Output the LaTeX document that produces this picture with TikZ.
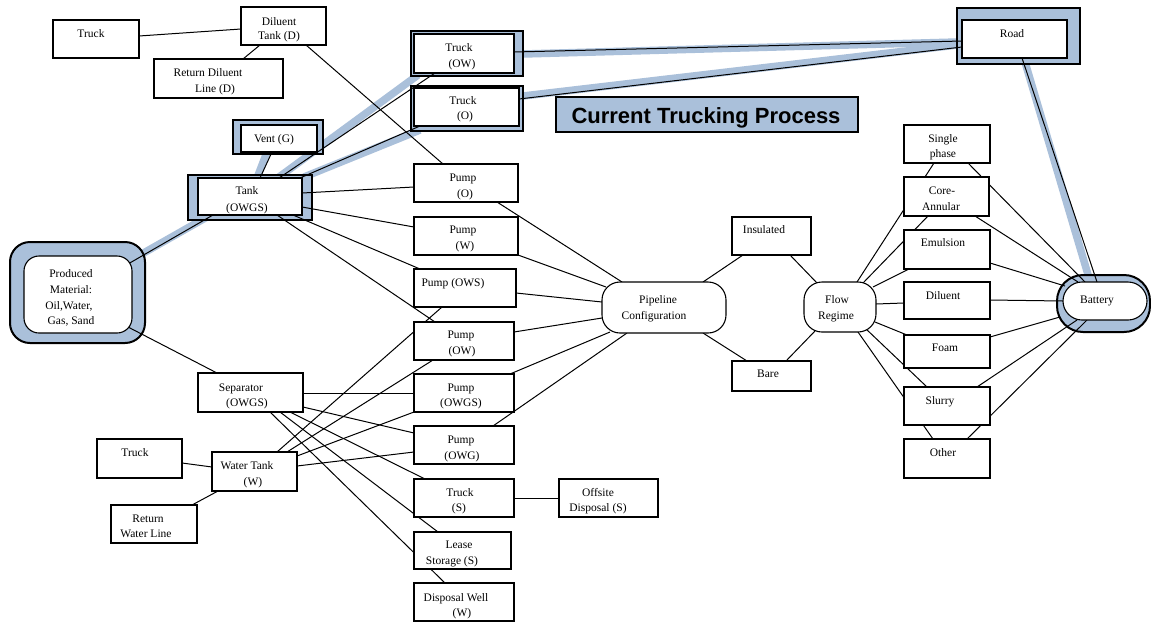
\documentclass[tikz,border=0pt]{standalone}
\usepackage{fontspec}
\setmainfont{Liberation Serif}
\newfontfamily\arialf{Liberation Sans}
\definecolor{hb}{RGB}{170,192,218}
\pgfdeclarelayer{bg}
\pgfdeclarelayer{bands}
\pgfdeclarelayer{outer}
\pgfdeclarelayer{lines}
\pgfsetlayers{bg,bands,outer,lines,main}
\tikzset{
  box/.style={rectangle,draw=black,fill=white,line width=1.1pt,inner sep=0pt,outer sep=0pt},
  hbox/.style={box,fill=hb,line width=2pt},
  txt/.style={font=\fontsize{11.5}{14}\selectfont,inner sep=0pt,outer sep=0pt,anchor=base},
  conn/.style={draw=black,line width=1pt},
  band/.style={draw=hb,line width=7.5pt,line cap=butt},
}
\newcommand\bx[6][]{%
  \expandafter\xdef\csname bxX#2\endcsname{#3}%
  \expandafter\xdef\csname bxY#2\endcsname{#4}%
  \node[box,#1,minimum width={(#5-#3)*1pt},minimum height={(#6-#4)*1pt}] (#2) at ({(#3+#5)/2},{(#4+#6)/2}) {};}
\newcommand\ep[3]{([shift={({#2-\csname bxX#1\endcsname},{#3-\csname bxY#1\endcsname})}]#1.north west)}
\newcommand\tx[4]{\node[txt] (#1) at (#2,#3) {#4};}
\begin{document}
\begin{tikzpicture}[x=1pt,y=-1pt]
\begin{pgfonlayer}{bg}
\path[fill=white,use as bounding box] (0,0) rectangle (1151,622);
\end{pgfonlayer}
% highlighted outer frames
\begin{pgfonlayer}{outer}
\bx[hbox]{ventO}{233}{120}{323}{154}
\bx[hbox]{tankO}{188}{175}{312}{220}
\bx[hbox]{trkowO}{411}{31}{523}{76}
\bx[hbox]{trkoO}{411}{86}{523}{131}
\bx[hbox]{roadO}{957}{8}{1080}{64}
\bx[hbox,rounded corners=20pt]{prodO}{10}{242}{145}{343}
\bx[hbox,rounded corners=26pt]{battO}{1057}{275}{1150}{332}
\end{pgfonlayer}
% boxes
\bx{trk1}{53}{20}{139}{58}
\bx{dtank}{241}{7}{326}{45}
\bx{rdl}{154}{59}{283}{98}
\bx{vent}{241}{125}{317}{152}
\bx{tank}{198}{178}{302}{215}
\bx{trkow}{414}{34}{514}{73}
\bx{trko}{414}{88}{519}{126}
\bx{pO}{414}{164}{518}{202}
\bx{pW}{414}{217}{518}{255}
\bx{pOWS}{414}{269}{516}{307}
\bx{pOW}{414}{322}{514}{360}
\bx{pOWGS}{414}{374}{514}{412}
\bx{pOWG}{414}{426}{514}{464}
\bx{trkS}{414}{479}{514}{517}
\bx{offs}{559}{479}{658}{517}
\bx{lease}{414}{532}{511}{569}
\bx{dwell}{414}{583}{514}{621}
\bx{sep}{198}{373}{303}{412}
\bx{trk2}{97}{439}{182}{478}
\bx{wtank}{212}{452}{297}{491}
\bx{rwl}{111}{505}{197}{543}
\bx[rounded corners=15pt]{prod}{24}{256}{132}{333}
\bx[rounded corners=18pt]{pipe}{602}{282}{726}{333}
\bx{ins}{732}{217}{811}{255}
\bx{bare}{732}{361}{811}{391}
\bx[rounded corners=18pt]{flow}{804}{282}{876}{332}
\bx{sp}{904}{125}{990}{163}
\bx{core}{904}{177}{989}{216}
\bx{emul}{904}{230}{990}{269}
\bx{dil}{904}{282}{990}{319}
\bx{foam}{904}{335}{990}{368}
\bx{slurry}{904}{387}{990}{425}
\bx{other}{904}{439}{990}{478}
\bx{road}{962}{20}{1067}{58}
\bx[rounded corners=19pt]{batt}{1063}{282}{1147}{320}
\bx[fill=hb,line width=1.6pt]{title}{556}{97}{858}{132}
% texts
\tx{t-trk1}{91}{37}{Truck}
\tx{t-dt1}{279}{25}{Diluent}
\tx{t-dt2}{279}{39}{Tank (D)}
\tx{t-rdl1}{208}{76}{Return Diluent}
\tx{t-rdl2}{215}{92}{Line (D)}
\tx{t-vent}{274}{142}{Vent (G)}
\tx{t-tank1}{247}{194}{Tank}
\tx{t-tank2}{247}{211}{(OWGS)}
\tx{t-tow1}{459}{51}{Truck}
\tx{t-tow2}{462}{67}{(OW)}
\tx{t-to1}{463}{104}{Truck}
\tx{t-to2}{465}{119}{(O)}
\tx{t-po1}{463}{181}{Pump}
\tx{t-po2}{465}{197}{(O)}
\tx{t-pw1}{463}{233}{Pump}
\tx{t-pw2}{465}{249}{(W)}
\tx{t-pows}{453}{286}{Pump (OWS)}
\tx{t-pow1}{461}{338}{Pump}
\tx{t-pow2}{462}{354}{(OW)}
\tx{t-powgs1}{461}{391}{Pump}
\tx{t-powgs2}{461}{406}{(OWGS)}
\tx{t-powg1}{461}{443}{Pump}
\tx{t-powg2}{462}{459}{(OWG)}
\tx{t-ts1}{460}{496}{Truck}
\tx{t-ts2}{459}{511}{(S)}
\tx{t-off1}{598}{496}{Offsite}
\tx{t-off2}{598}{511}{Disposal (S)}
\tx{t-ls1}{459}{548}{Lease}
\tx{t-ls2}{452}{564}{Storage (S)}
\tx{t-dw1}{456}{601}{Disposal Well}
\tx{t-dw2}{462}{616}{(W)}
\tx{t-sep1}{241}{391}{Separator}
\tx{t-sep2}{247}{406}{(OWGS)}
\tx{t-trk2}{135}{456}{Truck}
\tx{t-wt1}{247}{469}{Water Tank}
\tx{t-wt2}{253}{485}{(W)}
\tx{t-rwl1}{148}{522}{Return}
\tx{t-rwl2}{146}{537}{Water Line}
\tx{t-pm1}{71}{277}{Produced}
\tx{t-pm2}{71}{293}{Material:}
\tx{t-pm3}{69}{309}{Oil,Water,}
\tx{t-pm4}{71}{324}{Gas, Sand}
\tx{t-pc1}{658}{303}{Pipeline}
\tx{t-pc2}{654}{319}{Configuration}
\tx{t-ins}{764}{233}{Insulated}
\tx{t-bare}{768}{377}{Bare}
\tx{t-fr1}{837}{303}{Flow}
\tx{t-fr2}{836}{319}{Regime}
\tx{t-sp1}{943}{142}{Single}
\tx{t-sp2}{943}{157}{phase}
\tx{t-ca1}{942}{194}{Core-}
\tx{t-ca2}{941}{210}{Annular}
\tx{t-em}{943}{246}{Emulsion}
\tx{t-dil}{943}{299}{Diluent}
\tx{t-foam}{945}{351}{Foam}
\tx{t-sl}{940}{404}{Slurry}
\tx{t-oth}{943}{456}{Other}
\tx{t-road}{1012}{37}{Road}
\tx{t-batt}{1097}{303}{Battery}
\node[anchor=base,inner sep=0pt,font=\arialf\bfseries\fontsize{22}{26}\selectfont] (t-title) at (706,123) {Current Trucking Process};
% blue highlight bands
\begin{pgfonlayer}{bands}
\draw[band] \ep{ventO}{267}{152} -- \ep{tankO}{257}{178};
\draw[band] \ep{tankO}{279}{177} -- \ep{trkowO}{418}{75};
\draw[band] \ep{tankO}{304}{177} -- \ep{trkoO}{420}{130};
\draw[band] \ep{trkowO}{523}{54} -- \ep{roadO}{957}{42};
\draw[band] \ep{trkoO}{523}{96} -- \ep{roadO}{957}{45};
\draw[band] \ep{roadO}{1025}{62} -- \ep{battO}{1089}{278};
\draw[band] \ep{tankO}{207}{217} -- \ep{prodO}{140}{255};
\end{pgfonlayer}
% connectors
\begin{pgfonlayer}{lines}
\draw[conn] \ep{trk1}{139}{36} -- \ep{dtank}{241}{29};
\draw[conn] \ep{dtank}{260}{45} -- \ep{rdl}{243}{59};
\draw[conn] \ep{dtank}{306}{45} -- \ep{pO}{443}{164};
\draw[conn] \ep{vent}{272}{152} -- \ep{tank}{260}{178};
\draw[conn] \ep{tank}{279}{178} -- \ep{trkow}{435}{73};
\draw[conn] \ep{tank}{300}{178} -- \ep{trko}{420}{126};
\draw[conn] \ep{trkow}{514}{52} -- \ep{road}{962}{41};
\draw[conn] \ep{trko}{519}{99} -- \ep{road}{962}{47};
\draw[conn] \ep{road}{1022}{58} -- \ep{batt}{1097}{282};
\draw[conn] \ep{tank}{213}{215} -- \ep{prod}{128}{264};
\draw[conn] \ep{prod}{128}{327} -- \ep{sep}{217}{373};
\draw[conn] \ep{tank}{302}{193} -- \ep{pO}{414}{187};
\draw[conn] \ep{tank}{302}{207} -- \ep{pW}{414}{227};
\draw[conn] \ep{tank}{293}{215} -- \ep{pOWS}{420}{269};
\draw[conn] \ep{tank}{277}{215} -- \ep{pOW}{435}{322};
\draw[conn] \ep{wtank}{277}{452} -- \ep{pOWS}{442}{307};
\draw[conn] \ep{wtank}{287}{452} -- \ep{pOW}{433}{360};
\draw[conn] \ep{wtank}{297}{456} -- \ep{pOWGS}{414}{412};
\draw[conn] \ep{wtank}{297}{466} -- \ep{pOWG}{414}{452};
\draw[conn] \ep{sep}{303}{393} -- \ep{pOWGS}{414}{393};
\draw[conn] \ep{sep}{303}{407} -- \ep{pOWG}{414}{433};
\draw[conn] \ep{sep}{290}{412} -- \ep{trkS}{425}{479};
\draw[conn] \ep{sep}{280}{412} -- \ep{lease}{438}{532};
\draw[conn] \ep{sep}{270}{412} -- \ep{dwell}{445}{583};
\draw[conn] \ep{trk2}{182}{463} -- \ep{wtank}{212}{467};
\draw[conn] \ep{wtank}{218}{491} -- \ep{rwl}{192}{505};
\draw[conn] \ep{trkS}{514}{498} -- \ep{offs}{559}{498};
\draw[conn] \ep{pO}{497}{202} -- \ep{pipe}{622}{282};
\draw[conn] \ep{pW}{518}{255} -- \ep{pipe}{606}{287};
\draw[conn] \ep{pOWS}{516}{293} -- \ep{pipe}{602}{302};
\draw[conn] \ep{pOW}{514}{332} -- \ep{pipe}{602}{318};
\draw[conn] \ep{pOWGS}{510}{374} -- \ep{pipe}{610}{332};
\draw[conn] \ep{pOWG}{493}{426} -- \ep{pipe}{627}{333};
\draw[conn] \ep{pipe}{703}{282} -- \ep{ins}{743}{255};
\draw[conn] \ep{pipe}{703}{333} -- \ep{bare}{747}{361};
\draw[conn] \ep{ins}{790}{255} -- \ep{flow}{817}{283};
\draw[conn] \ep{bare}{786}{361} -- \ep{flow}{815}{331};
\draw[conn] \ep{flow}{857}{282} -- \ep{sp}{934}{163};
\draw[conn] \ep{flow}{863}{283} -- \ep{core}{928}{216};
\draw[conn] \ep{flow}{873}{287} -- \ep{emul}{909}{269};
\draw[conn] \ep{flow}{876}{304} -- \ep{dil}{904}{303};
\draw[conn] \ep{flow}{875}{322} -- \ep{foam}{907}{335};
\draw[conn] \ep{flow}{865}{328} -- \ep{slurry}{927}{387};
\draw[conn] \ep{flow}{858}{332} -- \ep{other}{933}{439};
\draw[conn] \ep{sp}{968}{163} -- \ep{batt}{1085}{282};
\draw[conn] \ep{core}{975}{216} -- \ep{batt}{1078}{282};
\draw[conn] \ep{emul}{990}{263} -- \ep{batt}{1065}{286};
\draw[conn] \ep{dil}{990}{300} -- \ep{batt}{1063}{301};
\draw[conn] \ep{foam}{990}{337} -- \ep{batt}{1060}{317};
\draw[conn] \ep{slurry}{977}{387} -- \ep{batt}{1077}{320};
\draw[conn] \ep{other}{967}{439} -- \ep{batt}{1087}{320};
\end{pgfonlayer}
\end{tikzpicture}
\end{document}
